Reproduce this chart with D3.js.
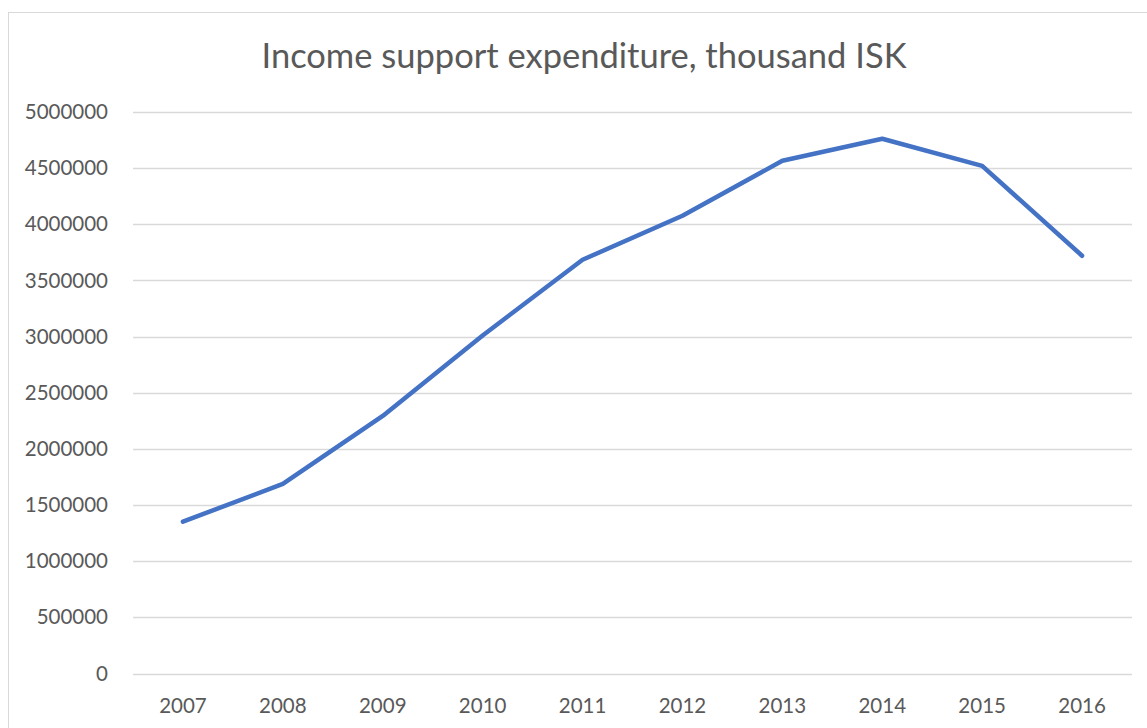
<!DOCTYPE html>
<html>
<head>
<meta charset="utf-8">
<script src="https://cdn.jsdelivr.net/npm/d3@7"></script>
<style>
  html, body { margin: 0; padding: 0; background: #ffffff; }
  svg { display: block; }
  text { font-family: Lato, "Open Sans", sans-serif; fill: #595959; }
</style>
</head>
<body>
<svg id="chart" width="1147" height="728"></svg>
<script>
// Income support expenditure by year (thousand ISK)
const years = ["2007", "2008", "2009", "2010", "2011", "2012", "2013", "2014", "2015", "2016"];
const expenditure = [1352000, 1688000, 2294000, 3010000, 3684000, 4076000, 4566000, 4762000, 4520000, 3720000];
const yTicks = [0, 500000, 1000000, 1500000, 2000000, 2500000, 3000000, 3500000, 4000000, 4500000, 5000000];
const titleText = "Income support expenditure, thousand ISK";

const W = 1147, H = 728;
const margin = { left: 133, right: 15, top: 112, bottom: 54 };

const svg = d3.select("#chart");

// outer chart frame
svg.append("rect")
  .attr("x", 8.5).attr("y", 12.5)
  .attr("width", W + 10).attr("height", H + 10)
  .attr("fill", "#ffffff")
  .attr("stroke", "#d9d9d9")
  .attr("stroke-width", 1);

const x = d3.scaleBand()
  .domain(years)
  .range([margin.left, W - margin.right]);

const y = d3.scaleLinear()
  .domain([0, 5000000])
  .range([H - margin.bottom - 0.5, margin.top]);

// horizontal gridlines
svg.append("g")
  .selectAll("line")
  .data(yTicks)
  .join("line")
  .attr("x1", margin.left)
  .attr("x2", W - margin.right)
  .attr("y1", d => Math.round(y(d)) + 0.5)
  .attr("y2", d => Math.round(y(d)) + 0.5)
  .attr("stroke", "#d9d9d9")
  .attr("stroke-width", 1.5);

const tickFont = "20.5px";

// y axis labels
const yAxis = d3.axisLeft(y).tickValues(yTicks).tickFormat(d3.format("d")).tickSize(0).tickPadding(25);
const gy = svg.append("g")
  .attr("transform", `translate(${margin.left},0)`)
  .call(yAxis);
gy.select(".domain").remove();
gy.selectAll("text")
  .style("font-family", "Lato, 'Open Sans', sans-serif")
  .style("font-size", tickFont)
  .attr("fill", "#595959");

// x axis labels
const xAxis = d3.axisBottom(x).tickSize(0).tickPadding(24);
const gx = svg.append("g")
  .attr("transform", `translate(0,${H - margin.bottom})`)
  .call(xAxis);
gx.select(".domain").remove();
gx.selectAll("text")
  .style("font-family", "Lato, 'Open Sans', sans-serif")
  .style("font-size", tickFont)
  .attr("fill", "#595959");

// series line
const line = d3.line()
  .x((d, i) => x(years[i]) + x.bandwidth() / 2)
  .y(d => y(d));

svg.append("path")
  .datum(expenditure)
  .attr("d", line)
  .attr("fill", "none")
  .attr("stroke", "#4472c4")
  .attr("stroke-width", 4.5)
  .attr("stroke-linejoin", "round")
  .attr("stroke-linecap", "round");

// title
svg.append("text")
  .attr("x", 584)
  .attr("y", 68)
  .attr("text-anchor", "middle")
  .style("font-size", "34.5px")
  .attr("fill", "#595959")
  .text(titleText);
</script>
</body>
</html>
